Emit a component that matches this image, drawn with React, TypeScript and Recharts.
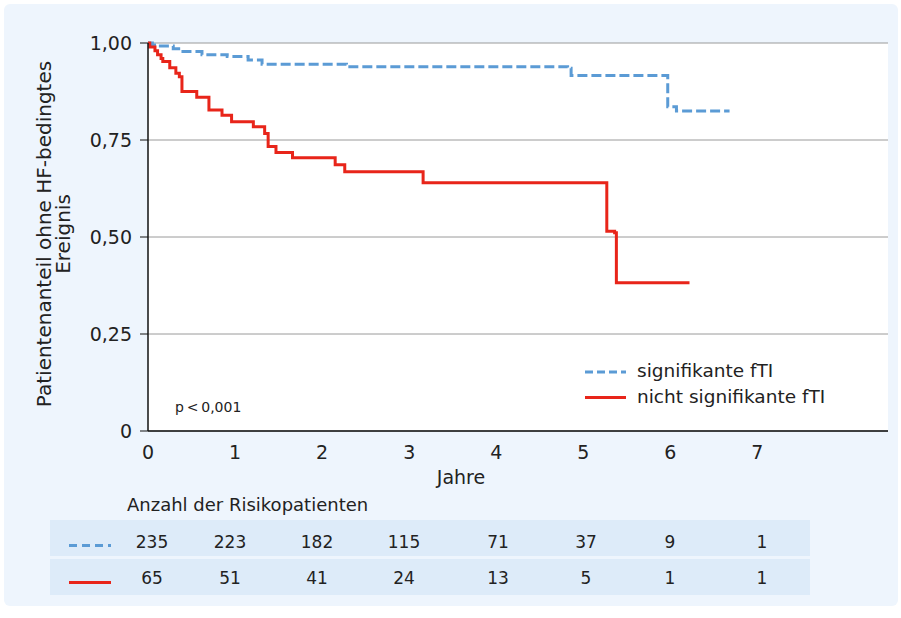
import React from 'react';
import { LineChart, Line, XAxis, YAxis, CartesianGrid } from 'recharts';

// Kaplan-Meier estimates (years, survival fraction)
const blueTimes = [0, 0.05, 0.12, 0.29, 0.37, 0.62, 0.91, 1.15, 1.31, 2.28, 4.82, 4.86, 5.97, 6.07, 6.68];
const blueSurv = [1.0, 0.995, 0.992, 0.985, 0.978, 0.970, 0.965, 0.956, 0.945, 0.939, 0.935, 0.916, 0.836, 0.825, 0.825];

const redTimes = [0, 0.02, 0.08, 0.11, 0.15, 0.17, 0.25, 0.32, 0.36, 0.39, 0.56, 0.70, 0.85, 0.96, 1.21, 1.34, 1.38, 1.47, 1.66, 2.15, 2.26, 3.16, 5.27, 5.36, 5.38, 6.22];
const redSurv = [1.0, 0.99, 0.98, 0.97, 0.96, 0.952, 0.936, 0.922, 0.913, 0.875, 0.86, 0.827, 0.814, 0.797, 0.784, 0.767, 0.733, 0.718, 0.704, 0.686, 0.668, 0.64, 0.515, 0.511, 0.382, 0.382];

const xTicks = [0, 1, 2, 3, 4, 5, 6, 7];
const yTicks = [0, 0.25, 0.5, 0.75, 1];

const seriesNames = ['signifikante fTI', 'nicht signifikante fTI'];
const riskBlue = [235, 223, 182, 115, 71, 37, 9, 1];
const riskRed = [65, 51, 41, 24, 13, 5, 1, 1];

const blueData = blueTimes.map((t, i) => ({ t, s: blueSurv[i] }));
const redData = redTimes.map((t, i) => ({ t, s: redSurv[i] }));

const BLUE = '#5b9bd5';
const RED = '#e8251a';
const FONT = '"DejaVu Sans", sans-serif';
const X_MAX = 8.5;

// layout: horizontal centres of the risk-table columns
const TABLE_COL_X = [152, 230, 317, 404, 498, 586, 670, 762];

const fmtY = (v: number) => (v === 0 ? '0' : v.toFixed(2).replace('.', ','));

const YLabel = () => (
  <text transform="translate(51,234) rotate(-90)" textAnchor="middle" fontSize={20} fill="#222" fontFamily={FONT}>
    <tspan x={0} dy={0}>Patientenanteil ohne HF-bedingtes</tspan>
    <tspan x={0} dy={19}>Ereignis</tspan>
  </text>
);

const XLabel = () => (
  <text x={461} y={484} textAnchor="middle" fontSize={19} fill="#222" fontFamily={FONT}>Jahre</text>
);

export default function App() {
  return (
    <div style={{ position: 'absolute', left: 0, top: 0, width: 901, height: 618, background: '#fff', fontFamily: FONT }}>
      <div style={{ position: 'absolute', left: 4, top: 4, width: 894, height: 602, background: '#eef5fd', borderRadius: 6 }} />
      <div style={{ position: 'absolute', left: 0, top: 0 }}>
        <LineChart width={901} height={500} margin={{ top: 43, right: 13, left: 0, bottom: 29 }}>
          <CartesianGrid vertical={false} horizontal stroke="#9a9a9a" fill="#ffffff" strokeWidth={1} />
          <XAxis
            dataKey="t"
            type="number"
            domain={[0, X_MAX]}
            ticks={xTicks}
            allowDataOverflow
            height={40}
            tickLine={false}
            axisLine={{ stroke: '#111', strokeWidth: 1.5 }}
            tick={{ fontSize: 19, fill: '#222', fontFamily: FONT }}
            tickMargin={9}
            label={{ content: () => <XLabel /> }}
          />
          <YAxis
            type="number"
            domain={[0, 1]}
            ticks={yTicks}
            width={148}
            tickSize={8}
            tickMargin={8}
            tickFormatter={fmtY}
            axisLine={{ stroke: '#111', strokeWidth: 1.5 }}
            tickLine={{ stroke: '#111' }}
            tick={{ fontSize: 19, fill: '#222', fontFamily: FONT }}
            label={{ content: () => <YLabel /> }}
          />
          <Line data={blueData} dataKey="s" name={seriesNames[0]} type="stepAfter" stroke={BLUE} strokeWidth={3} strokeDasharray="10 4" dot={false} activeDot={false} isAnimationActive={false} />
          <Line data={redData} dataKey="s" name={seriesNames[1]} type="stepAfter" stroke={RED} strokeWidth={3} dot={false} activeDot={false} isAnimationActive={false} />
        </LineChart>
      </div>
      <svg width={901} height={618} style={{ position: 'absolute', left: 0, top: 0 }} fontFamily={FONT}>
        {/* legend */}
        <line x1={585} x2={626} y1={372} y2={372} stroke={BLUE} strokeWidth={3} strokeDasharray="8 4" />
        <text x={637} y={377} fontSize={18.5} fill="#222">{seriesNames[0]}</text>
        <line x1={585} x2={626} y1={397.5} y2={397.5} stroke={RED} strokeWidth={3} />
        <text x={637} y={403} fontSize={18.5} fill="#222">{seriesNames[1]}</text>
        <text x={175} y={412} fontSize={14} fill="#222">p{'\u2009'}&lt;{'\u2009'}0,001</text>
        {/* risk table */}
        <text x={127} y={511} fontSize={18} fill="#222">Anzahl der Risikopatienten</text>
        <rect x={50} y={520} width={760} height={36} fill="#ddebf9" />
        <rect x={50} y={559} width={760} height={36} fill="#ddebf9" />
        <line x1={69} x2={111} y1={545.5} y2={545.5} stroke={BLUE} strokeWidth={3} strokeDasharray="8 5" />
        <line x1={69} x2={111} y1={582.5} y2={582.5} stroke={RED} strokeWidth={3} />
        {riskBlue.map((n, i) => (
          <text key={'b' + i} x={TABLE_COL_X[i]} y={548} fontSize={17} fill="#222" textAnchor="middle">{n}</text>
        ))}
        {riskRed.map((n, i) => (
          <text key={'r' + i} x={TABLE_COL_X[i]} y={584} fontSize={17} fill="#222" textAnchor="middle">{n}</text>
        ))}
      </svg>
    </div>
  );
}
